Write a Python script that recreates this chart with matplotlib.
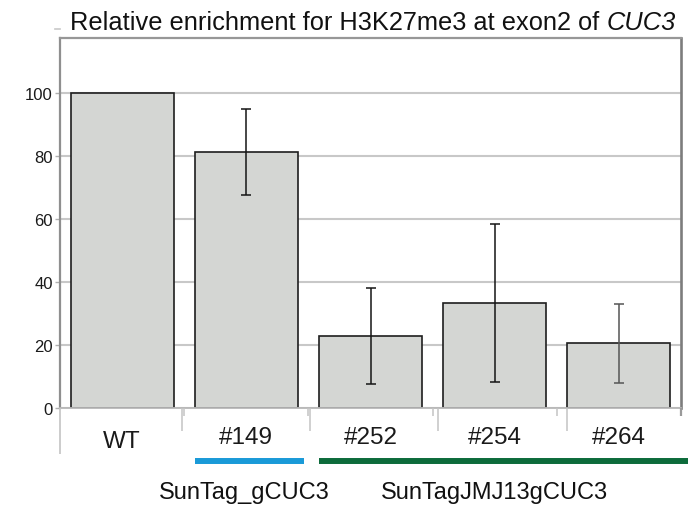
import numpy as np
import matplotlib
matplotlib.use("Agg")
import matplotlib.pyplot as plt
from matplotlib.lines import Line2D
from matplotlib.transforms import blended_transform_factory

plt.rcParams['font.family'] = ['Liberation Sans', 'DejaVu Sans']

# Data
categories = ["WT", "#149", "#252", "#254", "#264"]
enrichment = [100.0, 81.1, 22.8, 33.4, 20.5]
errors = [0.0, 13.6, 15.3, 25.0, 12.5]
yticks = [0, 20, 40, 60, 80, 100]
groups = ["SunTag_gCUC3", "SunTagJMJ13gCUC3"]
group_colors = ["#1a9ad8", "#0d6b3b"]
title_plain = "Relative enrichment for H3K27me3 at exon2 of "
title_gene = "CUC3"

W, H = 690, 510
fig = plt.figure(figsize=(W / 100, H / 100), dpi=100)


def fx(px):
    return px / W


def fy(py):
    return 1 - py / H


ax = fig.add_axes([fx(60), fy(409), fx(681) - fx(60), fy(39) - fy(409)])
x = np.arange(len(categories))

ax.bar(x, enrichment, width=0.83, color="#d4d6d3", edgecolor="#1e1e1e",
       linewidth=1.2, zorder=2)
err_colors = ["#151515", "#151515", "#151515", "#555555"]
for xi, yi, ei, ec in zip(x[1:], enrichment[1:], errors[1:], err_colors):
    ax.errorbar(xi, yi, yerr=ei, fmt="none", ecolor=ec, elinewidth=1.1,
                capsize=3.8, capthick=1.1, zorder=3)

ax.set_xlim(-0.5, len(categories) - 0.5)
ax.set_ylim(0, 117.3)
ax.set_yticks(yticks)
ax.set_yticklabels([str(t) for t in yticks], fontsize=12, color="#1a1a1a")
ax.tick_params(axis="y", length=3.6, width=1.0, color="#b0b0b0", pad=1.5)
ax.set_xticks([])
ax.yaxis.grid(True, color="#c8c8c8", linewidth=1.5)
ax.set_axisbelow(True)

for side, col, lw in [("top", "#979797", 1.6), ("left", "#8f8f8f", 1.6),
                      ("right", "#7d7d7d", 1.9), ("bottom", "#b8b8b8", 1.3)]:
    ax.spines[side].set_color(col)
    ax.spines[side].set_linewidth(lw)

# small tick above the frame at 120
ax.plot([-0.5 - 5 / 124.2, -0.5], [120, 120], color="#c8c8c8", lw=1.2,
        clip_on=False)


# category axis decorations below the plot
def fig_line(x0, y0, x1, y1, color, lw):
    fig.add_artist(Line2D([fx(x0), fx(x1)], [fy(y0), fy(y1)],
                          transform=fig.transFigure, color=color, lw=lw,
                          solid_capstyle="butt"))


fig_line(60, 409, 60, 455, "#c4c4c4", 1.2)
fig_line(681, 409, 681, 417, "#9a9a9a", 1.6)
for px in [182, 310, 438, 567]:
    fig_line(px, 409, px, 432, "#c4c4c4", 1.1)
for px in [184.2, 308.4, 432.6, 556.8]:
    fig_line(px, 409, px, 417, "#c4c4c4", 1.1)

# category labels
trans = blended_transform_factory(ax.transData, fig.transFigure)
baselines = [448, 444, 444, 444, 444]
for xi, lab, by in zip(x, categories, baselines):
    ax.text(xi, fy(by), lab, transform=trans, ha="center", va="baseline",
            fontsize=17.5, color="#1a1a1a")

# group bars and labels
fig_line(194.5, 461.5, 304, 461.5, group_colors[0], 4.3)
fig_line(319, 461.5, 688, 461.5, group_colors[1], 4.3)
fig.text(fx(244), fy(499.5), groups[0], ha="center", va="baseline",
         fontsize=17, color="#111111")
fig.text(fx(494), fy(499.5), groups[1], ha="center", va="baseline",
         fontsize=17, color="#111111")

# title: plain part followed by italic gene name, centred as one line
title_size = 18.3
renderer = fig.canvas.get_renderer()
t1 = fig.text(0, fy(30), title_plain, ha="left", va="baseline",
              fontsize=title_size, color="#111111")
t2 = fig.text(0, fy(30), title_gene, ha="left", va="baseline",
              fontsize=title_size, style="italic", color="#111111")
w1 = t1.get_window_extent(renderer).width
w2 = t2.get_window_extent(renderer).width
left = 373 - (w1 + w2) / 2
t1.set_x(fx(left))
t2.set_x(fx(left + w1))

fig.savefig("out.png", dpi=100)
